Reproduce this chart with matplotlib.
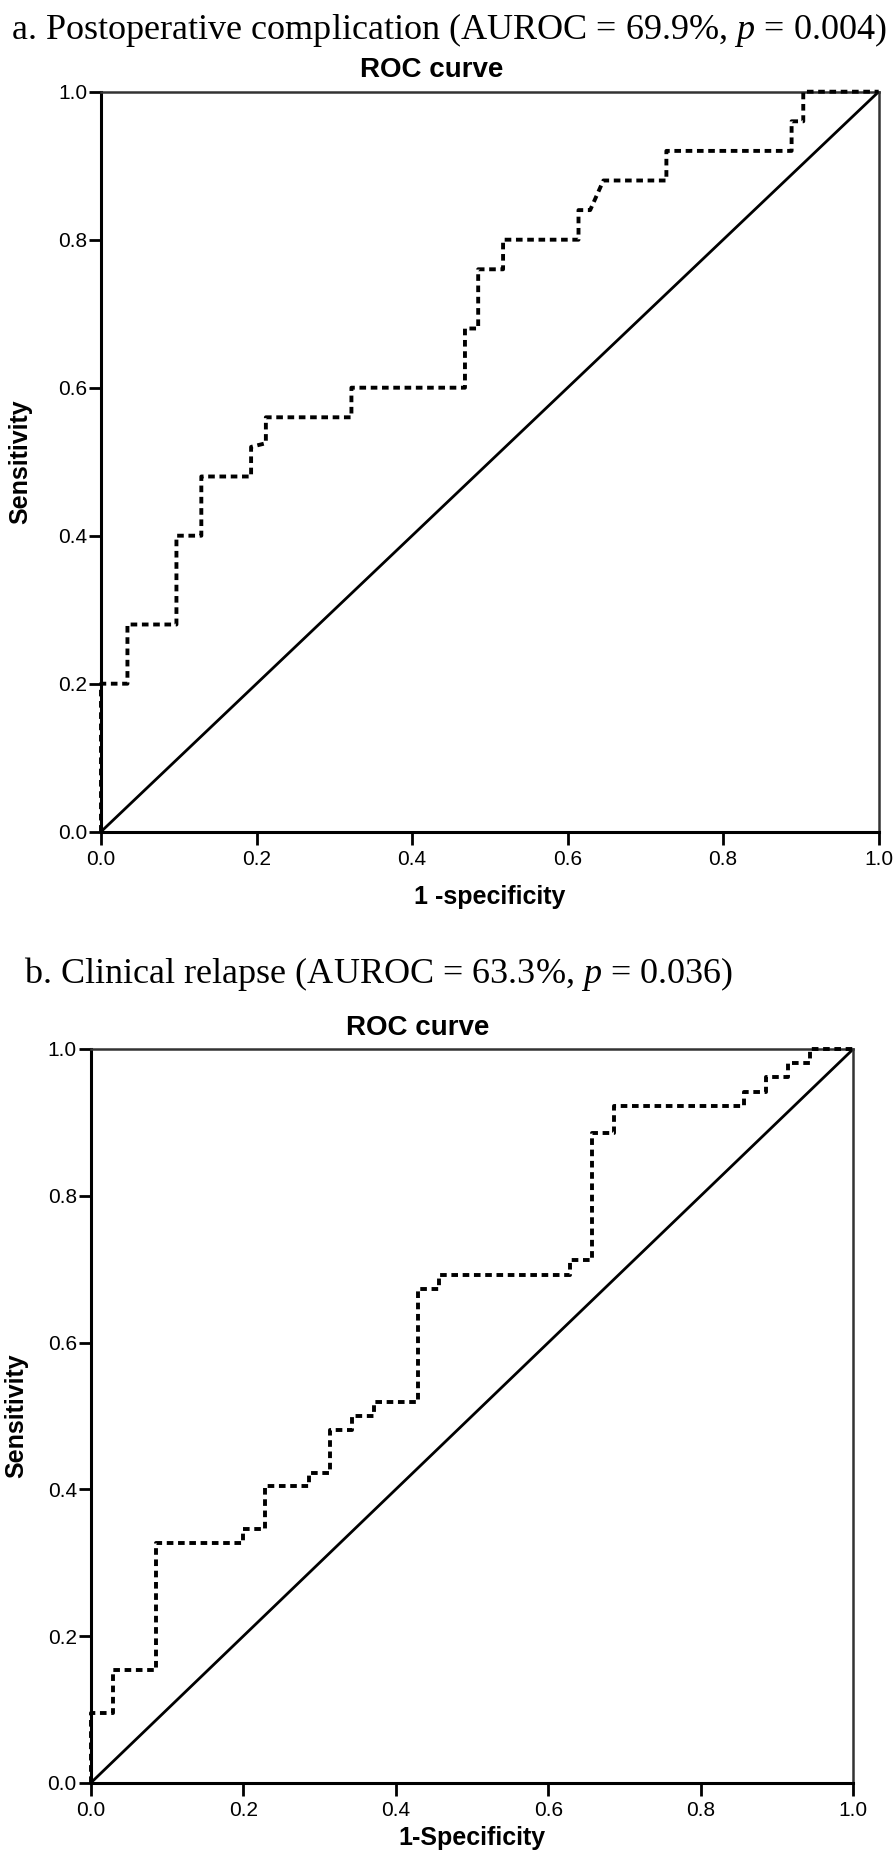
import matplotlib
matplotlib.use('Agg')
import matplotlib.pyplot as plt

#=======================
# ROC data
#=======================

# a. Postoperative complication
fpr_a = [0, 0, 0.034, 0.034, 0.097, 0.097, 0.129, 0.129, 0.193, 0.193,
         0.212, 0.212, 0.322, 0.322, 0.468, 0.468, 0.485, 0.485, 0.517, 0.517,
         0.614, 0.614, 0.629, 0.646, 0.727, 0.727, 0.888, 0.888, 0.903, 0.903, 1.0]
tpr_a = [0, 0.20, 0.20, 0.28, 0.28, 0.40, 0.40, 0.48, 0.48, 0.52,
         0.525, 0.56, 0.56, 0.60, 0.60, 0.68, 0.68, 0.76, 0.76, 0.80,
         0.80, 0.84, 0.84, 0.88, 0.88, 0.92, 0.92, 0.96, 0.96, 1.0, 1.0]

# b. Clinical relapse
fpr_b = [0, 0, 0.029, 0.029, 0.086, 0.086, 0.200, 0.200, 0.229, 0.229,
         0.286, 0.286, 0.314, 0.314, 0.343, 0.343, 0.371, 0.371, 0.429, 0.429,
         0.457, 0.457, 0.629, 0.629, 0.657, 0.657, 0.686, 0.686, 0.857, 0.857,
         0.886, 0.886, 0.914, 0.914, 0.943, 0.943, 1.0]
tpr_b = [0, 0.096, 0.096, 0.154, 0.154, 0.327, 0.327, 0.346, 0.346, 0.404,
         0.404, 0.423, 0.423, 0.481, 0.481, 0.500, 0.500, 0.519, 0.519, 0.673,
         0.673, 0.692, 0.692, 0.712, 0.712, 0.885, 0.885, 0.923, 0.923, 0.942,
         0.942, 0.962, 0.962, 0.981, 0.981, 1.0, 1.0]

ref_line = [0, 1]
ticks = [0.0, 0.2, 0.4, 0.6, 0.8, 1.0]
tick_labels = ['0.0', '0.2', '0.4', '0.6', '0.8', '1.0']

titles = ['a. Postoperative complication (AUROC = 69.9%, $p$ = 0.004)',
          'b. Clinical relapse (AUROC = 63.3%, $p$ = 0.036)']
xlabels = ['1 -specificity', '1-Specificity']

#=======================
# Plot
#=======================

plt.rcParams['font.family'] = ['Liberation Sans', 'DejaVu Sans']
plt.rcParams['mathtext.fontset'] = 'custom'
plt.rcParams['mathtext.rm'] = 'Liberation Serif'
plt.rcParams['mathtext.it'] = 'Liberation Serif:italic'

W, H = 896, 1859
fig = plt.figure(figsize=(W / 100, H / 100), dpi=100)

# axes boxes in pixels: left, top, right, bottom
boxes = [(101, 91.7, 878.7, 831.7), (90.7, 1049, 853.3, 1783)]
title_pos = [(11, 30), (24, 974)]
roc_pos = [(432, 70), (418, 1028)]
ylab_x = [20, 16]
xlab_y = [897, 1838]
curves = [(fpr_a, tpr_a), (fpr_b, tpr_b)]

for i in range(2):
    l, t, r, b = boxes[i]
    ax = fig.add_axes([l / W, 1 - b / H, (r - l) / W, (b - t) / H])
    fpr, tpr = curves[i]
    ax.plot(ref_line, ref_line, color='black', lw=2.0, zorder=2)
    ax.plot(fpr, tpr, color='black', lw=2.8, linestyle=(0, (1.7, 1.2)),
            clip_on=False, zorder=3)
    ax.set_xlim(0, 1)
    ax.set_ylim(0, 1)
    ax.set_xticks(ticks)
    ax.set_xticklabels(tick_labels)
    ax.set_yticks(ticks)
    ax.set_yticklabels(tick_labels)
    ax.tick_params(axis='both', length=9, width=2.0, labelsize=15, direction='out')
    ax.tick_params(axis='x', pad=4)
    ax.tick_params(axis='y', pad=1)
    for side in ['left', 'bottom']:
        ax.spines[side].set_linewidth(2.2)
    for side in ['top', 'right']:
        ax.spines[side].set_linewidth(1.8)
        ax.spines[side].set_color('#333333')

    fig.text(title_pos[i][0] / W, 1 - title_pos[i][1] / H, titles[i],
             family='Liberation Serif', fontsize=26, ha='left', va='center')
    fig.text(roc_pos[i][0] / W, 1 - roc_pos[i][1] / H, 'ROC curve',
             fontsize=20, fontweight='bold', ha='center', va='center')
    fig.text(ylab_x[i] / W, 1 - (t + b) / 2 / H, 'Sensitivity', rotation=90,
             fontsize=18, fontweight='bold', ha='center', va='center')
    fig.text((l + r) / 2 / W, 1 - xlab_y[i] / H, xlabels[i],
             fontsize=18, fontweight='bold', ha='center', va='center')

fig.savefig('out.png', dpi=100)
